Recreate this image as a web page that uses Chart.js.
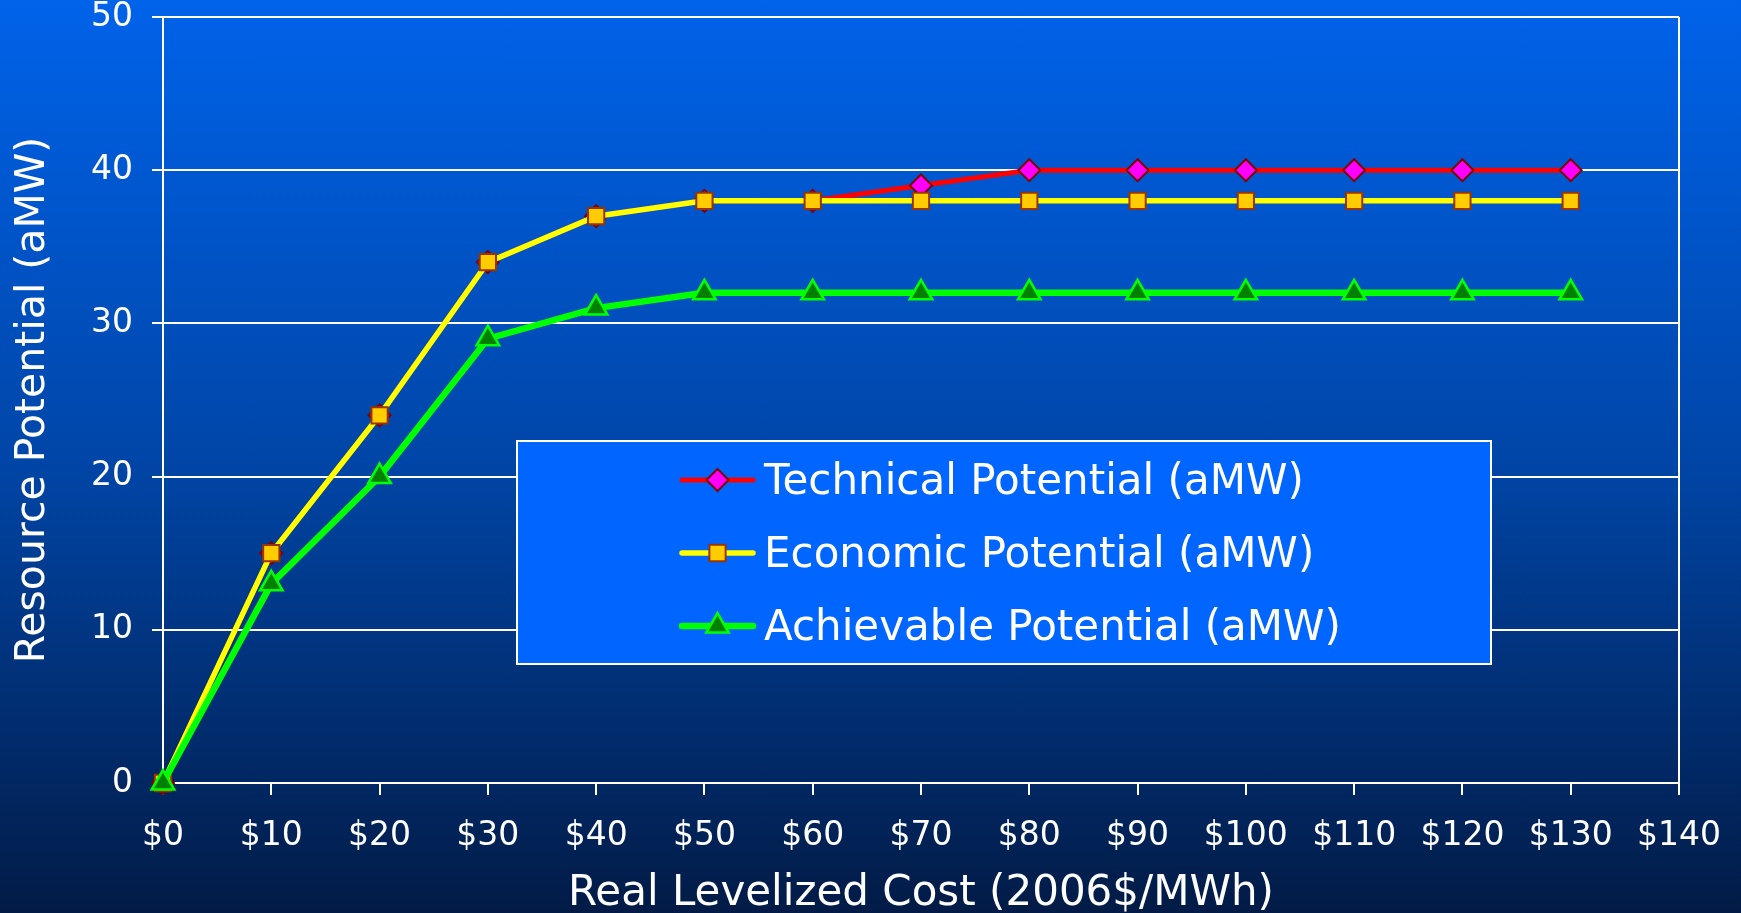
<!DOCTYPE html>
<html>
<head>
<meta charset="utf-8">
<title>Resource Potential by Levelized Cost</title>
<script src="https://cdn.jsdelivr.net/npm/chart.js@4.4.1/dist/chart.umd.min.js"></script>
<style>
  html, body {
    margin: 0;
    padding: 0;
    width: 1741px;
    height: 913px;
    overflow: hidden;
    background: linear-gradient(to bottom, #0063ea 0%, #0046a8 50%, #021b46 100%);
  }
  #potentialChart { display: block; }
</style>
</head>
<body>
<canvas id="potentialChart" width="1741" height="913"></canvas>
<script>
// Cost steps ($/MWh) and cumulative potential (aMW) at each step
const costs = [0, 10, 20, 30, 40, 50, 60, 70, 80, 90, 100, 110, 120, 130];
const technical = [0, 15, 24, 34, 37, 38, 38, 39, 40, 40, 40, 40, 40, 40];
const economic = [0, 15, 24, 34, 37, 38, 38, 38, 38, 38, 38, 38, 38, 38];
const achievable = [0, 13, 20, 29, 31, 32, 32, 32, 32, 32, 32, 32, 32, 32];
const seriesNames = [
  "Technical Potential (aMW)",
  "Economic Potential (aMW)",
  "Achievable Potential (aMW)",
];

const FONT = "'DejaVu Sans', Verdana, sans-serif";

function toPoints(values) {
  return values.map((v, i) => ({ x: costs[i], y: v }));
}

// white frame on the right side of the plot area
const plotFrame = {
  id: "plotFrame",
  beforeDatasetsDraw(chart) {
    const { ctx, chartArea } = chart;
    ctx.save();
    ctx.strokeStyle = "#ffffff";
    ctx.lineWidth = 2;
    ctx.beginPath();
    ctx.moveTo(chartArea.right, chartArea.top);
    ctx.lineTo(chartArea.right, chartArea.bottom);
    ctx.stroke();
    ctx.restore();
  },
};

// boxed legend sitting inside the plot area
const boxLegend = {
  id: "boxLegend",
  afterDatasetsDraw(chart, args, opts) {
    const { ctx } = chart;
    const b = opts.box;
    ctx.save();
    ctx.fillStyle = "#0066ff";
    ctx.fillRect(b.left, b.top, b.width, b.height);
    ctx.strokeStyle = "#ffffff";
    ctx.lineWidth = 2;
    ctx.strokeRect(b.left, b.top, b.width, b.height);

    chart.data.datasets.forEach((ds, i) => {
      const y = b.top + opts.firstRow + i * opts.rowGap;
      const x0 = b.left + opts.lineStart;
      const x1 = b.left + opts.lineEnd;
      ctx.strokeStyle = ds.borderColor;
      ctx.lineWidth = ds.borderWidth;
      ctx.lineCap = "round";
      ctx.beginPath();
      ctx.moveTo(x0, y);
      ctx.lineTo(x1, y);
      ctx.stroke();

      ctx.fillStyle = ds.pointBackgroundColor;
      ctx.strokeStyle = ds.pointBorderColor;
      ctx.lineWidth = ds.pointBorderWidth;
      Chart.helpers.drawPoint(ctx, {
        pointStyle: ds.pointStyle,
        radius: ds.pointRadius,
        borderWidth: ds.pointBorderWidth,
        rotation: 0,
      }, (x0 + x1) / 2, y);

      ctx.fillStyle = "#ffffff";
      ctx.font = "42px " + FONT;
      ctx.textBaseline = "middle";
      ctx.textAlign = "left";
      ctx.fillText(ds.label, b.left + opts.textStart, y + 3);
    });
    ctx.restore();
  },
};

new Chart(document.getElementById("potentialChart"), {
  type: "line",
  data: {
    datasets: [
      {
        label: seriesNames[0],
        data: toPoints(technical),
        borderColor: "#ff0000",
        borderWidth: 5,
        pointStyle: "rectRot",
        pointRadius: 11,
        pointBackgroundColor: "#ff00ff",
        pointBorderColor: "#800000",
        pointBorderWidth: 2,
        clip: false,
        order: 2,
      },
      {
        label: seriesNames[1],
        data: toPoints(economic),
        borderColor: "#ffff00",
        borderWidth: 5.5,
        pointStyle: "rect",
        pointRadius: 11.5,
        pointBackgroundColor: "#ffcc00",
        pointBorderColor: "#993300",
        pointBorderWidth: 2,
        clip: false,
        order: 1,
      },
      {
        label: seriesNames[2],
        data: toPoints(achievable),
        borderColor: "#00ff00",
        borderWidth: 6.5,
        pointStyle: "triangle",
        pointRadius: 13,
        pointBackgroundColor: "#008000",
        pointBorderColor: "#00ff00",
        pointBorderWidth: 2.5,
        clip: false,
        order: 0,
      },
    ],
  },
  options: {
    responsive: false,
    animation: false,
    layout: {
      autoPadding: false,
      padding: { top: 17, right: 62, bottom: 0, left: 0 },
    },
    elements: { line: { tension: 0 } },
    plugins: {
      legend: { display: false },
      tooltip: { enabled: false },
      boxLegend: {
        box: { left: 517, top: 441, width: 974, height: 223 },
        firstRow: 39,
        rowGap: 73,
        lineStart: 165,
        lineEnd: 236,
        textStart: 247,
      },
    },
    scales: {
      x: {
        type: "linear",
        min: 0,
        max: 140,
        afterFit(scale) {
          scale.height = 130;
          scale.paddingLeft = 0;
          scale.paddingRight = 0;
        },
        ticks: {
          stepSize: 10,
          color: "#ffffff",
          font: { family: FONT, size: 33 },
          padding: 22,
          maxRotation: 0,
          autoSkip: false,
          callback: (v) => "$" + v,
        },
        grid: {
          drawOnChartArea: false,
          color: "#ffffff",
          lineWidth: 2,
          tickLength: 12,
        },
        border: { display: true, color: "#ffffff", width: 2 },
        title: {
          display: true,
          text: "Real Levelized Cost (2006$/MWh)",
          color: "#ffffff",
          font: { family: FONT, size: 42, lineHeight: 0.9 },
          padding: { top: 0, bottom: 0 },
        },
      },
      y: {
        min: 0,
        max: 50,
        afterFit(scale) {
          scale.width = 163;
          scale.paddingTop = 0;
          scale.paddingBottom = 0;
        },
        ticks: {
          stepSize: 10,
          color: "#ffffff",
          font: { family: FONT, size: 33 },
          padding: 19,
        },
        grid: {
          color: "#ffffff",
          lineWidth: 2,
          tickLength: 11,
        },
        border: { display: true, color: "#ffffff", width: 2 },
        title: {
          display: true,
          text: "Resource Potential (aMW)",
          color: "#ffffff",
          font: { family: FONT, size: 41, lineHeight: 1.2 },
          padding: { top: 9, bottom: 0 },
        },
      },
    },
  },
  plugins: [plotFrame, boxLegend],
});
</script>
</body>
</html>
